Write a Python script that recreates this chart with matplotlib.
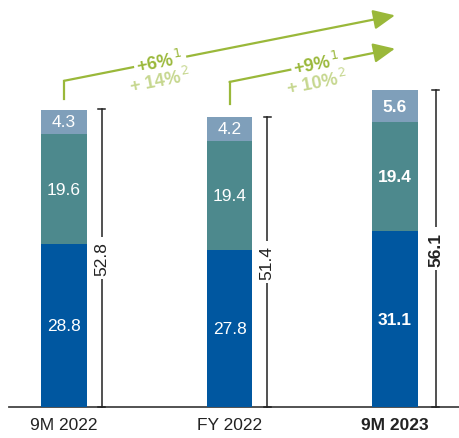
import matplotlib.pyplot as plt
import numpy as np

plt.rcParams["font.family"] = ["Liberation Sans", "DejaVu Sans"]

categories = ["9M 2022", "FY 2022", "9M 2023"]
seg_bottom = [28.8, 27.8, 31.1]
seg_middle = [19.6, 19.4, 19.4]
seg_top = [4.3, 4.2, 5.6]
totals = [52.8, 51.4, 56.1]
growth_main = ["+6%", "+9%"]
growth_alt = ["+ 14%", "+ 10%"]

C_BOTTOM = "#0057a0"
C_MIDDLE = "#4d898d"
C_TOP = "#7f9fba"
GREEN = "#9ab83a"
GREEN_LIGHT = "#c6d78f"
DARK = "#222222"
FS = 12.5

fig = plt.figure(figsize=(4.59, 4.39), dpi=100)
ax = fig.add_axes([0, 0, 1, 1])
ax.set_xlim(-0.387, 2.387)
ax.set_ylim(-5.5, 72.3)
ax.axis("off")

x = np.arange(len(categories))
w = 0.278
b1 = np.array(seg_bottom)
b2 = b1 + np.array(seg_middle)
ax.bar(x, seg_bottom, w, color=C_BOTTOM, zorder=2)
ax.bar(x, seg_middle, w, bottom=b1, color=C_MIDDLE, zorder=2)
ax.bar(x, seg_top, w, bottom=b2, color=C_TOP, zorder=2)

bracket_off = [0.228, 0.228, 0.245]
for i in range(len(categories)):
    weight = "bold" if i == 2 else "normal"
    ax.text(x[i], seg_bottom[i] / 2, f"{seg_bottom[i]:.1f}", ha="center", va="center",
            color="white", fontsize=FS, fontweight=weight, zorder=3)
    ax.text(x[i], b1[i] + seg_middle[i] / 2, f"{seg_middle[i]:.1f}", ha="center", va="center",
            color="white", fontsize=FS, fontweight=weight, zorder=3)
    ax.text(x[i], b2[i] + seg_top[i] / 2, f"{seg_top[i]:.1f}", ha="center", va="center",
            color="white", fontsize=FS, fontweight=weight, zorder=3)

    # total bracket
    bx = x[i] + bracket_off[i]
    cap = 0.02
    ax.plot([bx, bx], [0, totals[i]], color=DARK, lw=1.1, zorder=2)
    ax.plot([bx - cap, bx + cap], [totals[i], totals[i]], color=DARK, lw=1.1, zorder=2)
    ax.plot([bx - cap, bx + cap], [0, 0], color=DARK, lw=1.1, zorder=2)
    ax.text(bx, totals[i] / 2, f"{totals[i]:.1f}", rotation=90, ha="center", va="center",
            color=DARK, fontsize=FS, fontweight=weight, zorder=3,
            bbox=dict(boxstyle="square,pad=0.25", fc="white", ec="none"))

    ax.text(x[i], -3.1, categories[i], ha="center", va="center", color=DARK,
            fontsize=FS, fontweight=weight)

# baseline
ax.plot([-0.33, 2.387], [0, 0], color="#444444", lw=1.3, zorder=1)

# growth arrows
starts = [(0, 54.6), (1, 53.7)]
corners = [(0, 57.8), (1, 57.6)]
ends = [(2.0, 69.4), (2.0, 63.5)]
label_pos = [(0.58, 61.3), (1.53, 60.9)]
for k in range(2):
    ax.plot([starts[k][0], corners[k][0]], [starts[k][1], corners[k][1]], color=GREEN, lw=1.6)
    ax.annotate("", xy=ends[k], xytext=corners[k],
                arrowprops=dict(arrowstyle="-|>,head_length=1.1,head_width=0.5",
                                color=GREEN, lw=1.6, shrinkA=0, shrinkB=0,
                                mutation_scale=12))
    lx, ly = label_pos[k]
    ax.text(lx, ly, growth_main[k] + r"$^{\,1}$", rotation=11, ha="center", va="center",
            color=GREEN, fontsize=13, fontweight="bold", zorder=4,
            bbox=dict(boxstyle="square,pad=0.15", fc="white", ec="none"))
    ax.text(lx, ly - 3.3, growth_alt[k] + r"$^{\,2}$", rotation=11, ha="center", va="center",
            color=GREEN_LIGHT, fontsize=13, fontweight="bold", zorder=4)

fig.savefig("out.png", dpi=100)
